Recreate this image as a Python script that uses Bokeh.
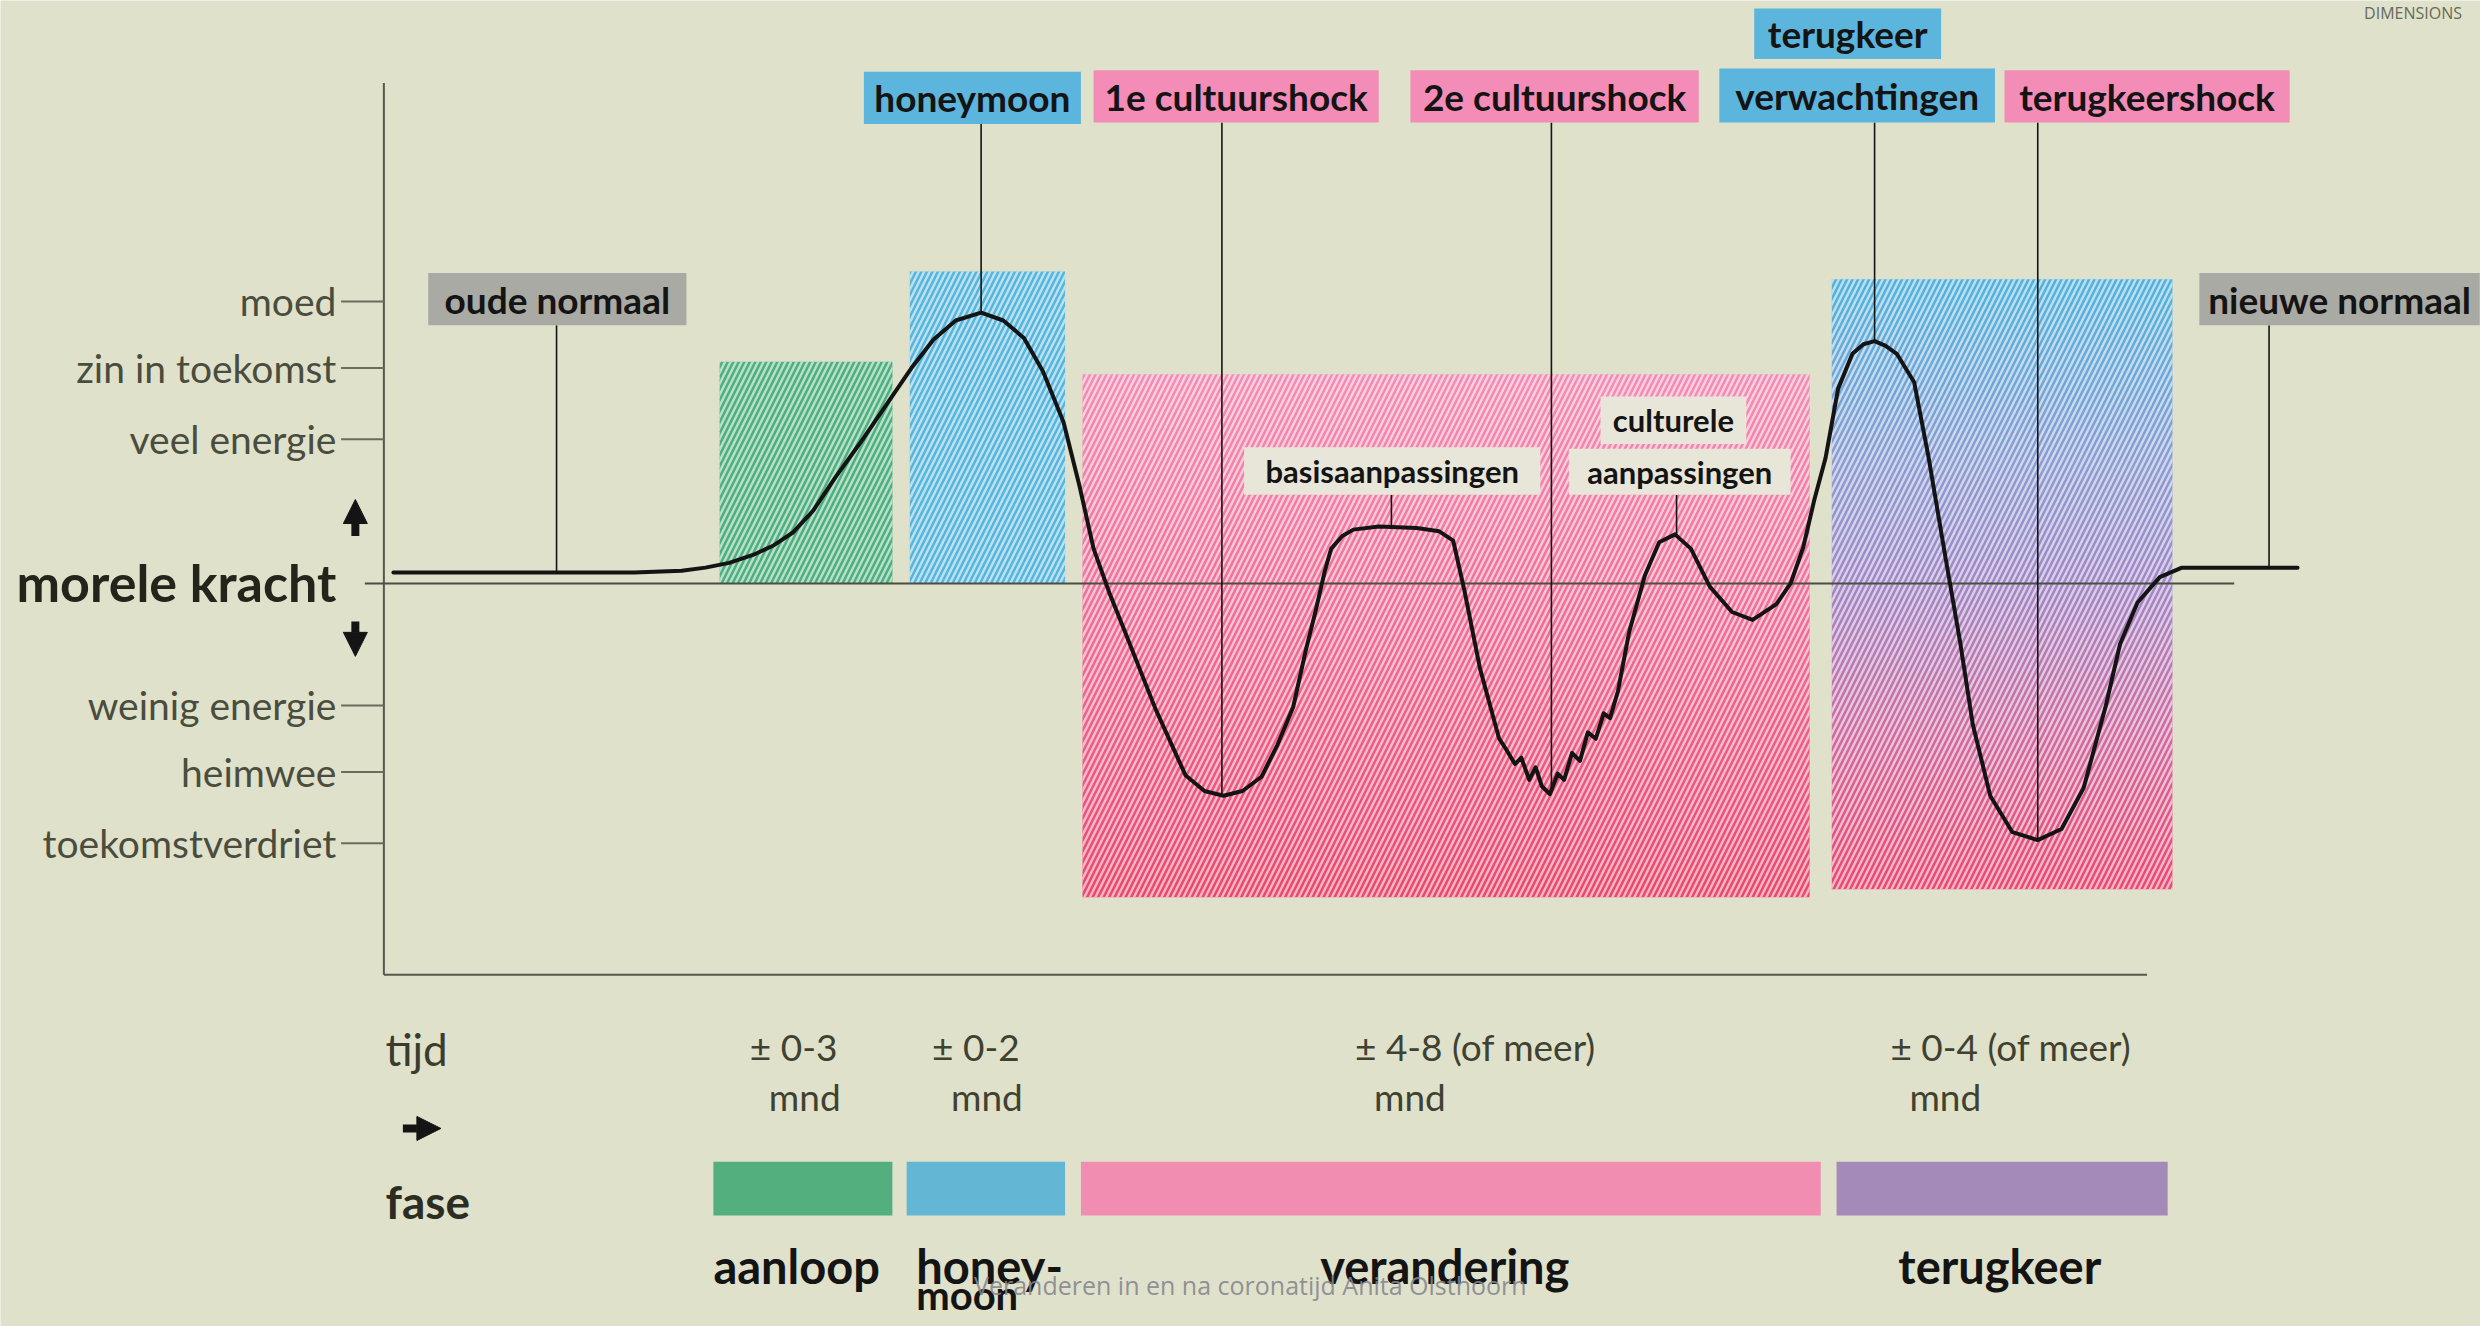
import numpy as np
from bokeh.plotting import figure
from bokeh.models import Range1d, ColumnDataSource, Arrow, NormalHead
from bokeh.core.properties import value
from bokeh.embed import file_html
from bokeh.resources import INLINE

# ------------------------------------------------------------------
# DATA  (t = time axis units, m = "morele kracht" units, 0 = baseline)
# ------------------------------------------------------------------
level_names = ["moed", "zin in toekomst", "veel energie",
               "weinig energie", "heimwee", "toekomstverdriet"]
level_values = [178, 136, 91, -77, -119, -164]

curve_t = [6, 58, 108, 158, 188, 203, 218, 233, 246, 258, 271, 285, 303, 318, 333, 347, 361,
           377, 391, 404, 416, 429, 439, 448, 458, 468, 487, 506, 518, 530, 542,
           554, 564, 574, 582, 588, 594, 598, 605, 612, 628, 652, 666, 675, 682,
           692, 704, 708, 714, 718, 723, 727, 731, 736, 741, 745, 750, 755, 760,
           765, 770, 774, 779, 786, 796, 805, 815, 825, 837, 851, 864, 879, 888,
           896, 903, 910, 918, 927, 934, 941, 948, 955, 966, 975, 986, 995, 1003,
           1014, 1028, 1044, 1059, 1073, 1087, 1096, 1107, 1121, 1135, 1158, 1208]
curve_m = [7, 7, 7, 7, 8, 10, 13, 18, 24, 32, 46, 67, 92, 114, 136, 154, 166,
           171, 166, 155, 134, 102, 62, 22, -6, -31, -79, -121, -131, -134, -131,
           -122, -102, -78, -42, -18, 8, 22, 30, 34, 36, 35, 33, 27, -4,
           -54, -98, -104, -114, -110, -124, -116, -128, -133, -120, -124, -107, -112, -94,
           -98, -82, -85, -68, -31, 5, 26, 31, 22, -2, -18, -23, -13, 0,
           23, 53, 79, 123, 145, 151, 153, 150, 145, 127, 80, 15, -37, -89,
           -134, -157, -162, -155, -129, -77, -38, -12, 4, 10, 10, 10]

# coloured (hatched) zones behind the curve
zone_start = [212, 332, 441, 914]
zone_end = [321, 430, 900, 1129]
zone_low = [0, 0, -198, -193]
zone_high = [140, 197, 132, 192]

# phases
phase_names = ["aanloop", "honeymoon", "verandering", "terugkeer"]
phase_start = [208, 330, 440, 917]
phase_end = [321, 430, 907, 1126]
phase_durations = ["± 0-3", "± 0-2", "± 4-8 (of meer)", "± 0-4 (of meer)"]

# events pointed at on the curve
event_names = ["oude normaal", "honeymoon", "1e cultuurshock", "2e cultuurshock",
               "terugkeer verwachtingen", "terugkeershock", "nieuwe normaal",
               "basisaanpassingen", "culturele aanpassingen"]
event_t = [109, 377, 529, 737, 941, 1044, 1190, 636, 816]

# ------------------------------------------------------------------
# LAYOUT / STYLE
# ------------------------------------------------------------------
BG = "#dfe1cb"
INK = "#141414"
AXIS = "#55584a"
LABEL = "#4a4d3d"
FONT = "Lato"

box_text = ["oude normaal", "honeymoon", "1e cultuurshock", "2e cultuurshock",
            "terugkeer", "verwachtingen", "terugkeershock", "nieuwe normaal",
            "basisaanpassingen", "culturele", "aanpassingen"]
box_left = [28, 303, 448, 648, 865, 843, 1023, 1146, 543, 768, 748]
box_right = [191, 440, 628, 830, 983, 1017, 1203, 1323, 730, 860, 888]
box_bottom = [163, 290, 291, 291, 331, 291, 291, 163, 56, 88, 56]
box_top = [196, 323, 324, 324, 363, 325, 324, 196, 86, 118, 85]
box_kind = ["gray", "blue", "pink", "pink", "blue", "blue", "pink", "gray",
            "light", "light", "light"]
kind_color = {"gray": "#a9aaa4", "blue": "#5cb5dc", "pink": "#f38cb6", "light": "#e7e6d9"}
kind_size = {"gray": "37px", "blue": "37px", "pink": "37px", "light": "31px"}
event_box_bottom = [163, 290, 291, 291, 291, 291, 163, 56, 56]

zone_stops = [
    [(0, "#4caf7d"), (1, "#4caf7d")],
    [(0, "#55b5dc"), (1, "#55b5dc")],
    [(0, "#f48cb4"), (0.5, "#f06a93"), (1, "#eb456c")],
    [(0, "#4fb2dc"), (0.3, "#8a9cd2"), (0.5, "#a086c6"), (0.75, "#cf6a9f"), (1, "#eb466f")],
]
phase_colors = ["#53b07e", "#63b7d4", "#f18db1", "#a38ab8"]

dur_left = [231, 346, 613, 951]
phase_label_left = [208, 336, 591, 956]


def hex2rgb(h):
    h = h.lstrip("#")
    return np.array([int(h[i:i + 2], 16) for i in (0, 2, 4)], dtype=float)


def grad_color(stops, f):
    fs = [s[0] for s in stops]
    cs = [hex2rgb(s[1]) for s in stops]
    rgb = [np.interp(f, fs, [c[k] for c in cs]) for k in range(3)]
    return "#%02x%02x%02x" % tuple(int(round(v)) for v in rgb)


# ------------------------------------------------------------------
# FIGURE
# ------------------------------------------------------------------
W, H = 2480, 1326
S = 2484 / 1568.0
p = figure(width=W, height=H,
           x_range=Range1d(-242, -242 + W / S), y_range=Range1d(368 - H / S, 368),
           x_axis_location=None, y_axis_location=None,
           toolbar_location=None, output_backend="svg", min_border=0,
           background_fill_color=BG, border_fill_color=BG, outline_line_color=None)
p.xgrid.grid_line_color = None
p.ygrid.grid_line_color = None

# zones: gradient strips + white hatch overlay
N = 48
for s, e, lo, hi, stops in zip(zone_start, zone_end, zone_low, zone_high, zone_stops):
    h = (hi - lo) / N
    tops = [hi - i * h for i in range(N)]
    bots = [t - h - 0.6 if i < N - 1 else lo for i, t in enumerate(tops)]
    cols = [grad_color(stops, (i + 0.5) / N) for i in range(N)]
    p.quad(left=[s] * N, right=[e] * N, top=tops, bottom=bots,
           fill_color=cols, line_color=None)
p.quad(left=zone_start, right=zone_end, top=zone_high, bottom=zone_low,
       fill_color=None, line_color=None, hatch_pattern="/", hatch_color="white",
       hatch_alpha=0.6, hatch_scale=11, hatch_weight=2.5)

# axes lines
p.segment(x0=[0], y0=[316], x1=[0], y1=[-247], line_color=AXIS, line_width=2)
p.segment(x0=[0], y0=[-247], x1=[1113], y1=[-247], line_color=AXIS, line_width=2)
p.segment(x0=[-12], y0=[0], x1=[1168], y1=[0], line_color="#4c4e42", line_width=2)
p.segment(x0=[-27] * len(level_values), y0=level_values, x1=[0] * len(level_values),
          y1=level_values, line_color="#6a6d5c", line_width=2)
p.text(x=[-30] * len(level_values), y=level_values, text=level_names,
       text_font=value(FONT), text_font_size=value("39px"), text_color=LABEL,
       text_align="right", text_baseline="middle")
p.text(x=[-30], y=[1], text=["morele kracht"], text_font=value(FONT),
       text_font_size=value("52px"), text_font_style="bold", text_color="#23251a",
       text_align="right", text_baseline="middle")

# arrows
arr = ColumnDataSource(dict(x0=[-18, -18, 12], y0=[30, -24, -344],
                            x1=[-18, -18, 36], y1=[53, -46, -344]))
p.add_layout(Arrow(end=NormalHead(size=24, fill_color=INK, line_color=INK, line_width=1),
                   x_start="x0", y_start="y0", x_end="x1", y_end="y1",
                   line_width=8, line_color=INK, source=arr))

# leader lines
lead_end = list(np.interp(event_t, curve_t, curve_m))
p.segment(x0=event_t, y0=event_box_bottom, x1=event_t, y1=lead_end,
          line_color=INK, line_width=1.6)

# curve
p.line(curve_t, curve_m, line_color=INK, line_width=4, line_join="round", line_cap="round")

# label boxes
p.quad(left=box_left, right=box_right, top=box_top, bottom=box_bottom,
       fill_color=[kind_color[k] for k in box_kind], line_color=None)
for k in ["gray", "blue", "pink", "light"]:
    idx = [i for i, kk in enumerate(box_kind) if kk == k]
    p.text(x=[(box_left[i] + box_right[i]) / 2 for i in idx],
           y=[(box_bottom[i] + box_top[i]) / 2 for i in idx],
           text=[box_text[i] for i in idx], text_font=value(FONT),
           text_font_size=value(kind_size[k]), text_font_style="bold",
           text_color=INK, text_align="center", text_baseline="middle")

# bottom: tijd / fase
p.text(x=[1], y=[-294], text=["tijd"], text_font=value(FONT),
       text_font_size=value("44px"), text_color="#3a3d2e",
       text_align="left", text_baseline="middle")
p.text(x=[1], y=[-390], text=["fase"], text_font=value(FONT),
       text_font_size=value("46px"), text_font_style="bold", text_color="#2b2d22",
       text_align="left", text_baseline="middle")

p.text(x=dur_left, y=[-292] * 4, text=phase_durations, text_font=value(FONT),
       text_font_size=value("37px"), text_color="#3f4231",
       text_align="left", text_baseline="middle")
p.text(x=[d + 12 for d in dur_left], y=[-324] * 4, text=["mnd"] * 4,
       text_font=value(FONT), text_font_size=value("37px"), text_color="#3f4231",
       text_align="left", text_baseline="middle")

p.quad(left=phase_start, right=phase_end, top=[-365] * 4, bottom=[-399] * 4,
       fill_color=phase_colors, line_color=None)

phase_label_text = ["aanloop", "honey-", "verandering", "terugkeer"]
p.text(x=phase_label_left, y=[-431] * 4, text=phase_label_text, text_font=value(FONT),
       text_font_size=value("47px"), text_font_style="bold", text_color=INK,
       text_align="left", text_baseline="middle")
p.text(x=[phase_label_left[1]], y=[-449], text=["moon"], text_font=value(FONT),
       text_font_size=value("40px"), text_font_style="bold", text_color=INK,
       text_align="left", text_baseline="middle")

# watermark / credits
p.text(x=[549], y=[-443], text=["Veranderen in en na coronatijd  Anita Olsthoorn"],
       text_font=value("Open Sans"), text_font_size=value("25px"), text_color="#85868e",
       text_alpha=0.9, text_align="center", text_baseline="middle")
p.text(x=[1250], y=[360], text=["DIMENSIONS"], text_font=value("Open Sans"),
       text_font_size=value("16px"), text_color="#666a5c",
       text_align="left", text_baseline="middle")

html = file_html(p, INLINE)
html = html.replace("<body>", '<body style="background-color:#dfe1cb;">', 1)
open("out.html", "w").write(html)
